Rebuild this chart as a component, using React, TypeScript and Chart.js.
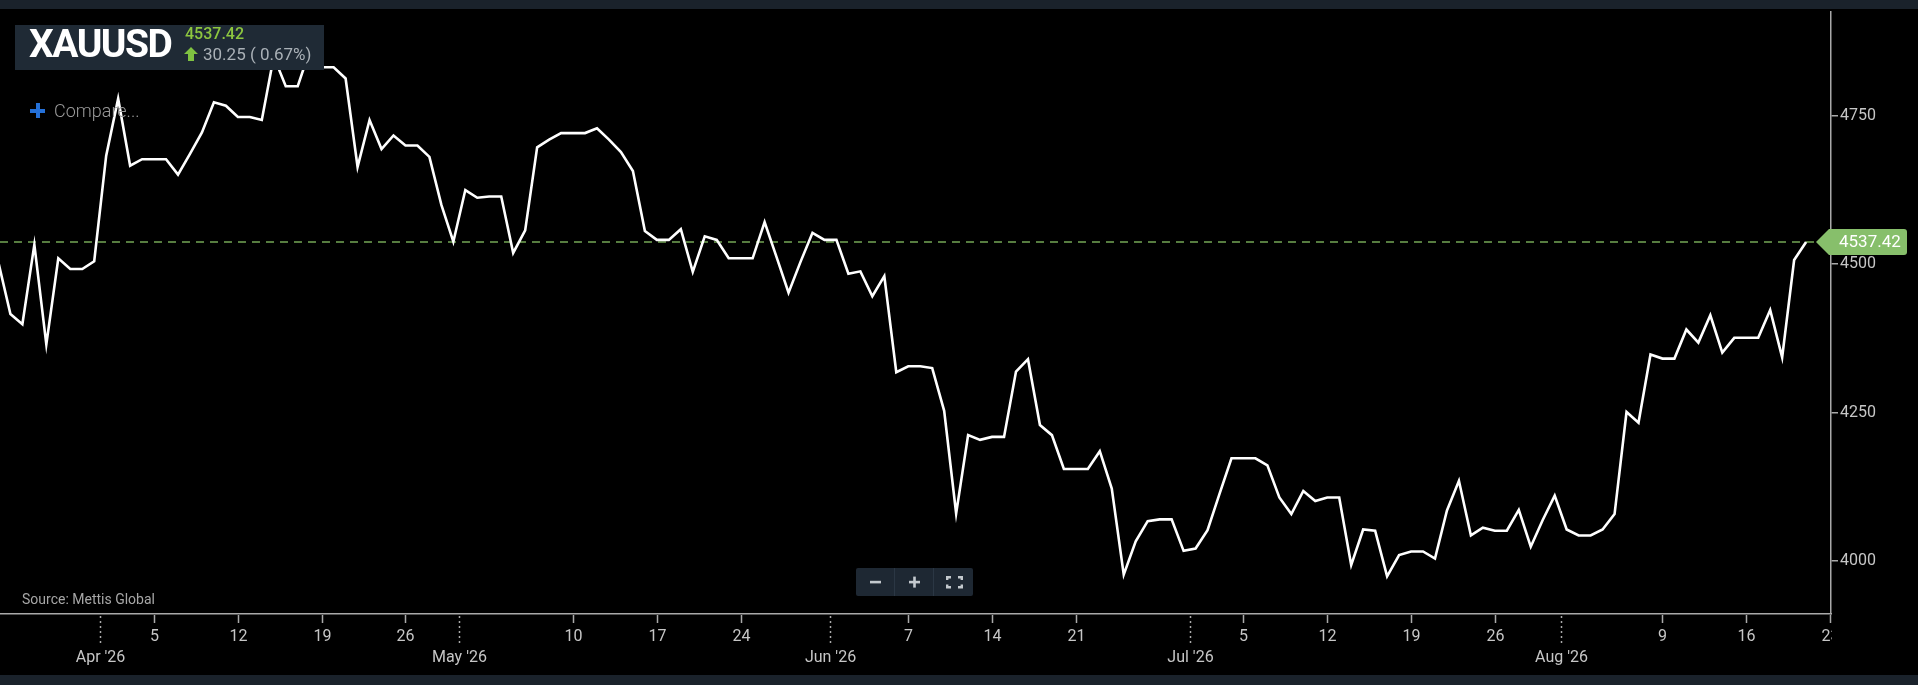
import React, { useEffect, useRef } from 'react';
import { Chart, registerables } from 'chart.js';

Chart.register(...registerables);

// ---- data (day offsets are days from 1 Apr 2026) ----
const symbol = 'XAUUSD';
const firstDay = -9; // 23 Mar 2026
const prices = [
  4503, 4416, 4399, 4533, 4365, 4510, 4492, 4492, 4505,
  4683, 4779, 4666, 4677, 4677, 4677, 4651, 4686, 4722, 4773,
  4767, 4748, 4748, 4743, 4850, 4800, 4800, 4860, 4832, 4832,
  4813, 4664, 4743, 4694, 4717, 4700, 4700, 4681, 4600, 4538,
  4625, 4612, 4614, 4614, 4519, 4557, 4697, 4710, 4721, 4721,
  4721, 4729, 4710, 4689, 4657, 4556, 4541, 4541, 4559, 4487,
  4547, 4541, 4510, 4510, 4510, 4571, 4512, 4452, 4504, 4553,
  4541, 4541, 4484, 4488, 4446, 4480, 4318, 4328, 4328, 4325,
  4253, 4080, 4212, 4204, 4209, 4209, 4319, 4340, 4229, 4212,
  4155, 4155, 4155, 4185, 4122, 3977, 4033, 4067, 4070, 4070,
  4017, 4021, 4052, 4113, 4173, 4173, 4173, 4161, 4107, 4079,
  4118, 4101, 4107, 4107, 3993, 4053, 4051, 3974, 4010, 4016,
  4016, 4004, 4085, 4135, 4043, 4056, 4051, 4051, 4086, 4024,
  4069, 4110, 4053, 4043, 4043, 4053, 4079, 4251, 4233, 4348,
  4341, 4341, 4390, 4368, 4414, 4351, 4376, 4376, 4376, 4423,
  4343, 4507.17, 4537.42,
];
const lastPrice = 4537.42;
const changeText = '30.25 ( 0.67%)';

const weekTickDays = [4, 11, 18, 25, 39, 46, 53, 67, 74, 81, 95, 102, 109, 116, 130, 137, 144];
const weekTickLabels = ['5', '12', '19', '26', '10', '17', '24', '7', '14', '21', '5', '12', '19', '26', '9', '16', '23'];
const monthTickDays = [-0.5, 29.5, 60.5, 90.5, 121.5];
const monthTickLabels = ["Apr '26", "May '26", "Jun '26", "Jul '26", "Aug '26"];
const yTickValues = [4000, 4250, 4500, 4750];
const xRange = [-8.87, 144.08];
const yRange = [3910.6, 4925.7];

const AXIS_COLOR = '#a9a9a9';
const LABEL_COLOR = '#c6c6c6';
const TAG_COLOR = '#87bf6b';

const overlayPlugin = {
  id: 'overlayPlugin',
  beforeDatasetsDraw(chart: any) {
    const { ctx, chartArea, scales } = chart;
    const y = scales.y.getPixelForValue(lastPrice);
    ctx.save();
    ctx.strokeStyle = '#74a655';
    ctx.lineWidth = 1.5;
    ctx.setLineDash([8, 6]);
    ctx.beginPath();
    ctx.moveTo(chartArea.left, y);
    ctx.lineTo(chartArea.right - 15, y);
    ctx.stroke();
    ctx.restore();
  },
  afterDraw(chart: any) {
    const { ctx, chartArea, scales } = chart;
    const xs = scales.x;
    const ys = scales.y;
    const bottom = chartArea.bottom;
    ctx.save();
    ctx.beginPath();
    ctx.rect(0, bottom, chartArea.right + 1, 80);
    ctx.clip();
    ctx.strokeStyle = AXIS_COLOR;
    ctx.lineWidth = 1.5;
    ctx.fillStyle = LABEL_COLOR;
    ctx.font = '16px Roboto';
    ctx.textAlign = 'center';
    ctx.textBaseline = 'middle';
    weekTickDays.forEach((d, i) => {
      const x = Math.round(xs.getPixelForValue(d)) + 0.5;
      ctx.beginPath();
      ctx.moveTo(x, bottom + 1);
      ctx.lineTo(x, bottom + 9);
      ctx.stroke();
      ctx.fillText(weekTickLabels[i], x, bottom + 23);
    });
    ctx.setLineDash([2, 3]);
    monthTickDays.forEach((d, i) => {
      const x = Math.round(xs.getPixelForValue(d)) + 0.5;
      ctx.beginPath();
      ctx.moveTo(x, bottom + 2);
      ctx.lineTo(x, bottom + 29);
      ctx.stroke();
      ctx.fillText(monthTickLabels[i], x, bottom + 44);
    });
    ctx.restore();

    // last price tag
    const y = ys.getPixelForValue(lastPrice);
    const tip = chartArea.right - 15;
    const left = chartArea.right - 2;
    const right = 1907;
    const h = 13;
    const r = 3;
    ctx.save();
    ctx.fillStyle = TAG_COLOR;
    ctx.beginPath();
    ctx.moveTo(tip, y);
    ctx.lineTo(left, y - h);
    ctx.lineTo(right - r, y - h);
    ctx.quadraticCurveTo(right, y - h, right, y - h + r);
    ctx.lineTo(right, y + h - r);
    ctx.quadraticCurveTo(right, y + h, right - r, y + h);
    ctx.lineTo(left, y + h);
    ctx.closePath();
    ctx.fill();
    ctx.fillStyle = '#ffffff';
    ctx.font = '17px Roboto';
    ctx.textAlign = 'left';
    ctx.textBaseline = 'middle';
    ctx.fillText(lastPrice.toFixed(2), chartArea.right + 8, y + 1);
    ctx.restore();
  },
};

function ChartCanvas() {
  const ref = useRef<HTMLCanvasElement | null>(null);
  useEffect(() => {
    document.body.style.margin = '0';
    document.body.style.overflow = 'hidden';
    const canvas = ref.current;
    if (!canvas) return;
    const chart = new Chart(canvas, {
      type: 'line',
      data: {
        datasets: [
          {
            data: prices.map((v, i) => ({ x: firstDay + i, y: v })),
            borderColor: '#ffffff',
            borderWidth: 2.6,
            pointRadius: 0,
            tension: 0,
            fill: false,
          },
        ],
      },
      options: {
        animation: false,
        responsive: false,
        maintainAspectRatio: false,
        layout: { padding: { top: 9, bottom: 10, left: 0, right: 0 } },
        plugins: {
          legend: { display: false },
          tooltip: { enabled: false },
        },
        scales: {
          x: {
            type: 'linear',
            min: xRange[0],
            max: xRange[1],
            grid: { display: false },
            ticks: { display: false },
            border: { display: true, color: AXIS_COLOR, width: 1.5 },
            afterFit: (s: any) => {
              s.height = 61;
            },
          },
          y: {
            type: 'linear',
            position: 'right',
            min: yRange[0],
            max: yRange[1],
            afterBuildTicks: (s: any) => {
              s.ticks = yTickValues.map((v) => ({ value: v }));
            },
            afterFit: (s: any) => {
              s.width = 87;
            },
            grid: {
              drawOnChartArea: false,
              drawTicks: true,
              tickLength: 7,
              color: AXIS_COLOR,
              lineWidth: 1.5,
            },
            border: { display: true, color: AXIS_COLOR, width: 1.5 },
            ticks: {
              color: LABEL_COLOR,
              font: { family: 'Roboto', size: 16 },
              padding: 2,
              callback: (v: any) => String(v),
            },
          },
        },
      } as any,
      plugins: [overlayPlugin],
    });
    return () => chart.destroy();
  }, []);
  return (
    <canvas
      ref={ref}
      width={1918}
      height={685}
      style={{ position: 'absolute', left: 0, top: 0, width: 1918, height: 685 }}
    />
  );
}

export default function App() {
  const abs: React.CSSProperties = { position: 'absolute', whiteSpace: 'nowrap', lineHeight: 1 };
  return (
    <div
      style={{
        position: 'relative',
        width: 1918,
        height: 685,
        background: '#000',
        overflow: 'hidden',
        fontFamily: 'Roboto, sans-serif',
      }}
    >
      <ChartCanvas />
      <div style={{ ...abs, left: 0, top: 0, width: 1918, height: 9, background: '#1a222b' }} />
      <div style={{ ...abs, left: 0, top: 675, width: 1918, height: 10, background: '#1a222b' }} />

      {/* header box */}
      <div style={{ ...abs, left: 15, top: 25, width: 309, height: 45, background: '#1f2a35' }} />
      <div
        style={{
          ...abs,
          left: 29,
          top: 25,
          fontSize: 39,
          fontWeight: 700,
          color: '#ffffff',
          letterSpacing: -1.5,
        }}
      >
        {symbol}
      </div>
      <div style={{ ...abs, left: 185, top: 25.5, fontSize: 16, fontWeight: 500, color: '#8dc63f' }}>
        {lastPrice.toFixed(2)}
      </div>
      <svg style={{ position: 'absolute', left: 184, top: 47 }} width={14} height={14} viewBox="0 0 14 14">
        <polygon points="7,0 14,7 10,7 10,14 4,14 4,7 0,7" fill="#7fc241" />
      </svg>
      <div style={{ ...abs, left: 203, top: 45.5, fontSize: 17, color: '#aab1b7' }}>{changeText}</div>

      {/* compare */}
      <div style={{ ...abs, left: 30, top: 108.5, width: 15, height: 4, background: '#2470d8' }} />
      <div style={{ ...abs, left: 35.5, top: 103, width: 4, height: 15, background: '#2470d8' }} />
      <div style={{ ...abs, left: 54, top: 102, fontSize: 18, fontWeight: 300, color: '#9a9a9a' }}>Compare...</div>

      {/* source */}
      <div style={{ ...abs, left: 22, top: 591.5, fontSize: 14, color: '#a6a6a6' }}>Source: Mettis Global</div>

      {/* zoom controls */}
      <div
        style={{
          ...abs,
          left: 856,
          top: 568,
          width: 117,
          height: 28,
          background: '#1e2833',
          borderRadius: 2,
        }}
      />
      <div style={{ ...abs, left: 894, top: 568, width: 1, height: 28, background: '#2b3744' }} />
      <div style={{ ...abs, left: 933, top: 568, width: 1, height: 28, background: '#2b3744' }} />
      <svg style={{ position: 'absolute', left: 856, top: 568 }} width={117} height={28} viewBox="0 0 117 28">
        <rect x={14} y={12.8} width={11} height={2.6} fill="#c3c9ce" />
        <rect x={53} y={12.8} width={11} height={2.6} fill="#c3c9ce" />
        <rect x={57.2} y={8.6} width={2.6} height={11} fill="#c3c9ce" />
        <g fill="none" stroke="#c3c9ce" strokeWidth={2.4}>
          <polyline points="91.2,12 91.2,9.2 95,9.2" />
          <polyline points="102,9.2 105.8,9.2 105.8,12" />
          <polyline points="91.2,16.5 91.2,19.2 95,19.2" />
          <polyline points="102,19.2 105.8,19.2 105.8,16.5" />
        </g>
      </svg>
    </div>
  );
}
